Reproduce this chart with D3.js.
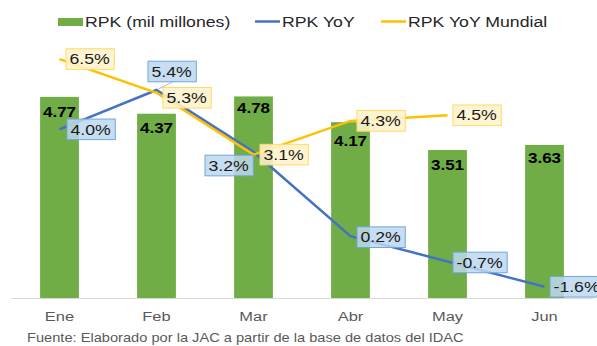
<!DOCTYPE html>
<html>
<head>
<meta charset="utf-8">
<script src="https://cdn.jsdelivr.net/npm/d3@7"></script>
<style>
  html, body { margin: 0; padding: 0; background: #fff; }
  svg { display: block; font-family: "Liberation Sans", Arial, sans-serif; }
</style>
</head>
<body>
<svg id="chart" width="597" height="346"></svg>
<script>
// ---- data ----
const months = ["Ene", "Feb", "Mar", "Abr", "May", "Jun"];
const rpk = [4.77, 4.37, 4.78, 4.17, 3.51, 3.63];          // mil millones
const rpkYoY = [4.0, 5.4, 3.2, 0.2, -0.7, -1.6];            // %
const rpkYoYMundial = [6.5, 5.3, 3.1, 4.3, 4.5];            // %
const barAxisDomain = [0, 6];
const pctAxisDomain = [-2, 7];
const legendLabels = ["RPK (mil millones)", "RPK YoY", "RPK YoY Mundial"];
const sourceNote = "Fuente: Elaborado por la JAC a partir de la base de datos del IDAC";

// ---- label placement (box left offset from point, box centre offset from point) ----
const barLabelDy = [20, 19, 17, 24, 20, 18];
const yoyLabelPos = [[7.5, 0], [-8.5, -18.5], [-48.5, 13.7], [6.5, 1], [5.5, 1], [5.5, 0]];
const mundialLabelPos = [[6.5, 0], [6.5, 5], [6.5, 0], [6.5, 0], [5.5, 0]];
const legendX = [58, 255, 381];

const COLORS = { bar: "#70AD47", yoy: "#4472C4", mundial: "#FFC000" };
const SX = 1.22; // horizontal text stretch

const svg = d3.select("#chart");
const baseY = 298, topY = 45;

const x = d3.scaleBand().domain(months).range([11, 593]).paddingInner(0.6).paddingOuter(0.3);
const xc = m => x(m) + x.bandwidth() / 2;
const yBar = d3.scaleLinear().domain(barAxisDomain).range([baseY, topY]);
const yPct = d3.scaleLinear().domain(pctAxisDomain).range([baseY, topY]);

function place(sel, px, py) {
  return sel.attr("x", 0).attr("y", 0).attr("transform", `translate(${px},${py}) scale(${SX},1)`);
}

// bars
svg.append("g").selectAll("rect").data(rpk).join("rect")
  .attr("x", (d, i) => x(months[i]))
  .attr("y", d => yBar(d))
  .attr("width", x.bandwidth())
  .attr("height", d => baseY - yBar(d))
  .attr("fill", COLORS.bar);

// category axis
const axis = svg.append("g").attr("transform", `translate(0,${baseY})`)
  .call(d3.axisBottom(x).tickSize(0));
axis.select(".domain").attr("stroke", "#d9d9d9").attr("stroke-width", 1.2);
axis.selectAll("text")
  .attr("y", 23).attr("dy", 0)
  .attr("transform", `scale(${SX},1)`)
  .attr("fill", "#595959")
  .style("font-size", "13.5px")
  .style("font-family", "'Liberation Sans', Arial, sans-serif");

// bar value labels
svg.append("g").selectAll("text").data(rpk).join("text")
  .each(function (d, i) { place(d3.select(this), xc(months[i]), yBar(d) + barLabelDy[i]); })
  .attr("text-anchor", "middle")
  .attr("font-size", 14)
  .attr("font-weight", "bold")
  .attr("fill", "#000")
  .text(d => d.toFixed(2));

// lines
const line = d3.line().x(d => xc(d.m)).y(d => yPct(d.v));
const yoyPts = rpkYoY.map((v, i) => ({ m: months[i], v }));
const mundialPts = rpkYoYMundial.map((v, i) => ({ m: months[i], v }));

svg.append("path").datum(yoyPts).attr("d", line)
  .attr("fill", "none").attr("stroke", COLORS.yoy).attr("stroke-width", 2.5);
svg.append("path").datum(mundialPts).attr("d", line)
  .attr("fill", "none").attr("stroke", COLORS.mundial).attr("stroke-width", 2.5);

// leader line for the raised 5.4% label
{
  const px = xc(months[1]), py = yPct(rpkYoY[1]);
  svg.append("line")
    .attr("x1", px + 17).attr("y1", py + yoyLabelPos[1][1] + 10)
    .attr("x2", px + 2).attr("y2", py - 1)
    .attr("stroke", "#a6a6a6").attr("stroke-width", 0.8);
}

// percentage callouts
function callouts(pts, pos, fill, stroke) {
  const g = svg.append("g");
  pts.forEach((p, i) => {
    const px = xc(p.m), py = yPct(p.v);
    const left = px + pos[i][0], cy = py + pos[i][1];
    const label = p.v.toFixed(1) + "%";
    const box = g.append("rect");
    const t = g.append("text")
      .attr("font-size", 14.5).attr("fill", "#1a1a1a").text(label);
    place(t, left + 3.5, cy + 5.2);
    const w = t.node().getComputedTextLength() * SX + 8;
    box.attr("x", left).attr("y", cy - 10.3).attr("width", w).attr("height", 20.6)
      .attr("fill", fill).attr("stroke", stroke).attr("stroke-width", 1);
  });
}
callouts(yoyPts, yoyLabelPos, "rgba(189,215,238,0.85)", "#6FA8DC");
callouts(mundialPts, mundialLabelPos, "rgba(255,242,204,0.88)", "#FFD966");

// legend
const lg = svg.append("g");
lg.append("rect").attr("x", legendX[0]).attr("y", 18).attr("width", 25).attr("height", 8).attr("fill", COLORS.bar);
lg.append("line").attr("x1", legendX[1]).attr("x2", legendX[1] + 25).attr("y1", 21.5).attr("y2", 21.5)
  .attr("stroke", COLORS.yoy).attr("stroke-width", 2.5);
lg.append("line").attr("x1", legendX[2]).attr("x2", legendX[2] + 25).attr("y1", 21.5).attr("y2", 21.5)
  .attr("stroke", COLORS.mundial).attr("stroke-width", 2.5);
legendLabels.forEach((s, i) => {
  place(lg.append("text"), legendX[i] + 27, 27.2)
    .attr("font-size", 14.5).attr("fill", "#262626").text(s);
});

// source note
place(svg.append("text"), 27, 341.5)
  .attr("font-size", 12).attr("fill", "#595959").text(sourceNote);
</script>
</body>
</html>
